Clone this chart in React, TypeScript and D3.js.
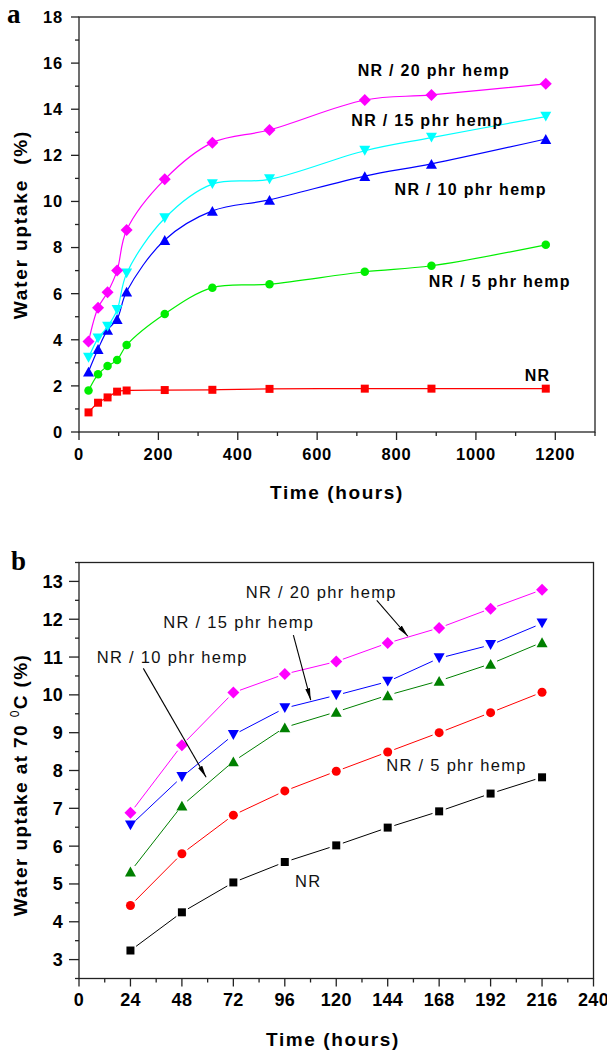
import React from "react";
import * as d3 from "d3";

// ---------- Panel a: water uptake at room temperature ----------
const timesA = [24, 48, 72, 96, 120, 216, 336, 480, 720, 888, 1176];
const nrA = [0.85, 1.27, 1.5, 1.75, 1.8, 1.82, 1.83, 1.87, 1.88, 1.88, 1.88];
const nr5A = [1.8, 2.5, 2.86, 3.12, 3.77, 5.12, 6.26, 6.41, 6.95, 7.21, 8.12];
const nr10A = [2.62, 3.6, 4.43, 4.9, 6.09, 8.33, 9.59, 10.07, 11.1, 11.63, 12.71];
const nr15A = [3.22, 4.06, 4.57, 5.29, 6.88, 9.27, 10.75, 10.96, 12.2, 12.77, 13.68];
const nr20A = [3.92, 5.39, 6.06, 7.0, 8.76, 10.96, 12.55, 13.1, 14.4, 14.62, 15.1];
const xTicksA = [0, 200, 400, 600, 800, 1000, 1200];
const yTicksA = [0, 2, 4, 6, 8, 10, 12, 14, 16, 18];

// ---------- Panel b: water uptake at 70 °C ----------
const timesB = [24, 48, 72, 96, 120, 144, 168, 192, 216];
const nrB = [3.24, 4.25, 5.04, 5.58, 6.02, 6.49, 6.92, 7.39, 7.82];
const nr5B = [4.43, 5.8, 6.82, 7.46, 7.98, 8.49, 9.0, 9.53, 10.07];
const nr10B = [5.33, 7.07, 8.24, 9.14, 9.55, 9.99, 10.37, 10.82, 11.39];
const nr15B = [6.55, 7.83, 8.94, 9.65, 9.99, 10.35, 10.97, 11.32, 11.89];
const nr20B = [6.88, 8.67, 10.06, 10.55, 10.88, 11.37, 11.77, 12.28, 12.78];
const xTicksB = [0, 24, 48, 72, 96, 120, 144, 168, 192, 216, 240];
const yTicksB = [3, 4, 5, 6, 7, 8, 9, 10, 11, 12, 13];

type Marker = "square" | "circle" | "up" | "down" | "diamond";

function markerPath(kind: Marker, s: number): string {
  const h = s / 2;
  switch (kind) {
    case "square":
      return `M${-h},${-h}H${h}V${h}H${-h}Z`;
    case "diamond":
      return `M0,${-h}L${h},0L0,${h}L${-h},0Z`;
    case "up":
      return `M0,${-h * 0.9}L${h},${h * 0.9}L${-h},${h * 0.9}Z`;
    case "down":
      return `M0,${h * 0.9}L${h},${-h * 0.9}L${-h},${-h * 0.9}Z`;
    default:
      return "";
  }
}

function Mark({ kind, x, y, size, color }: { kind: Marker; x: number; y: number; size: number; color: string }) {
  if (kind === "circle") return <circle cx={x} cy={y} r={size / 2} fill={color} />;
  return <path d={markerPath(kind, size)} transform={`translate(${x},${y})`} fill={color} />;
}

const seriesA = [
  { name: "NR", values: nrA, color: "#ff0000", marker: "square" as Marker, size: 8 },
  { name: "NR / 5 phr hemp", values: nr5A, color: "#00ee00", marker: "circle" as Marker, size: 8.5 },
  { name: "NR / 10 phr hemp", values: nr10A, color: "#0000ff", marker: "up" as Marker, size: 11 },
  { name: "NR / 15 phr hemp", values: nr15A, color: "#00ffff", marker: "down" as Marker, size: 11 },
  { name: "NR / 20 phr hemp", values: nr20A, color: "#ff00ff", marker: "diamond" as Marker, size: 12 },
];

const labelsA = [
  { text: "NR / 20 phr hemp", x: 702, y: 15.44 },
  { text: "NR / 15 phr hemp", x: 686, y: 13.28 },
  { text: "NR / 10 phr hemp", x: 795, y: 10.28 },
  { text: "NR / 5 phr hemp", x: 881, y: 6.3 },
  { text: "NR", x: 1123, y: 2.22 },
];

const seriesB = [
  { name: "NR", values: nrB, color: "#000000", marker: "square" as Marker, size: 8 },
  { name: "NR / 5 phr hemp", values: nr5B, color: "#ff0000", marker: "circle" as Marker, size: 9 },
  { name: "NR / 10 phr hemp", values: nr10B, color: "#008000", marker: "up" as Marker, size: 11 },
  { name: "NR / 15 phr hemp", values: nr15B, color: "#0000ff", marker: "down" as Marker, size: 11 },
  { name: "NR / 20 phr hemp", values: nr20B, color: "#ff00ff", marker: "diamond" as Marker, size: 12 },
];

const labelsB = [
  { text: "NR / 20 phr hemp", x: 77.8, y: 12.57 },
  { text: "NR / 15 phr hemp", x: 39.3, y: 11.78 },
  { text: "NR / 10 phr hemp", x: 8.3, y: 10.84 },
  { text: "NR / 5 phr hemp", x: 143.3, y: 8.0 },
  { text: "NR", x: 100.8, y: 4.92 },
];

// arrow annotations: [x1, y1, x2, y2] in data units
const arrowsB = [
  [138.9, 12.5, 153.4, 11.55],
  [100, 11.58, 108.1, 9.86],
  [30, 10.7, 59.3, 7.82],
];

const SANS = "'Liberation Sans', Arial, Helvetica, sans-serif";
const SERIF = "'Liberation Serif', 'Times New Roman', serif";
const AXIS = "#222";

function range(a: number, b: number, step: number) {
  const out: number[] = [];
  for (let v = a; v <= b + 1e-9; v += step) out.push(+v.toFixed(6));
  return out;
}

function Frame({ x, y, left, right, top, bottom, xMajor, xMinor, yMajor, yMinor, yTickLen, xLabelY, tickFont, tickSpacing }: any) {
  return (
    <g>
      <rect x={left} y={top} width={right - left} height={bottom - top} fill="none" stroke={AXIS} strokeWidth={1.3} />
      {xMinor.map((v: number) => (
        <line key={"xm" + v} x1={x(v)} x2={x(v)} y1={bottom} y2={bottom + 4} stroke={AXIS} strokeWidth={1.3} />
      ))}
      {xMajor.map((v: number) => (
        <g key={"xM" + v}>
          <line x1={x(v)} x2={x(v)} y1={bottom} y2={bottom + 8} stroke={AXIS} strokeWidth={1.3} />
          <text x={x(v)} y={xLabelY} textAnchor="middle" fontFamily={SANS} fontWeight="bold" fontSize={tickFont} letterSpacing={tickSpacing} fill="#000">
            {v}
          </text>
        </g>
      ))}
      {yMinor.map((v: number) => (
        <line key={"ym" + v} x1={left - 4} x2={left} y1={y(v)} y2={y(v)} stroke={AXIS} strokeWidth={1.3} />
      ))}
      {yMajor.map((v: number) => (
        <g key={"yM" + v}>
          <line x1={left - yTickLen} x2={left} y1={y(v)} y2={y(v)} stroke={AXIS} strokeWidth={1.3} />
          <text x={left - 16} y={y(v)} dy="0.36em" textAnchor="end" fontFamily={SANS} fontWeight="bold" fontSize={tickFont} letterSpacing={tickSpacing} fill="#000">
            {v}
          </text>
        </g>
      ))}
    </g>
  );
}

export default function App() {
  // panel a scales
  const xa = d3.scaleLinear().domain([0, 1300]).range([79, 595]);
  const ya = d3.scaleLinear().domain([0, 18]).range([432, 17]);
  const lineA = d3
    .line<number>()
    .x((_, i) => xa(timesA[i]))
    .y((d) => ya(d))
    .curve(d3.curveCatmullRom.alpha(0.5));

  // panel b scales
  const xb = d3.scaleLinear().domain([0, 240]).range([79, 593.5]);
  const yb = d3.scaleLinear().domain([2.5, 13.5]).range([978.5, 562.5]);

  const gap = 7;
  const gappedSegments = (values: number[]) => {
    const segs: { x1: number; y1: number; x2: number; y2: number }[] = [];
    for (let i = 0; i < values.length - 1; i++) {
      const ax = xb(timesB[i]), ay = yb(values[i]);
      const bx = xb(timesB[i + 1]), by = yb(values[i + 1]);
      const len = Math.hypot(bx - ax, by - ay);
      const ux = (bx - ax) / len, uy = (by - ay) / len;
      segs.push({ x1: ax + ux * gap, y1: ay + uy * gap, x2: bx - ux * gap, y2: by - uy * gap });
    }
    return segs;
  };

  return (
    <svg width={607} height={1050} style={{ position: "absolute", left: 0, top: 0, background: "#fff" }}>
      <defs>
        <marker id="arrowHead" viewBox="0 0 12 6" refX={12} refY={3} markerWidth={12} markerHeight={6} markerUnits="userSpaceOnUse" orient="auto">
          <path d="M0,0.6L12,3L0,5.4Z" fill="#000" />
        </marker>
      </defs>

      {/* ---------------- panel a ---------------- */}
      <text x={7} y={23} fontFamily={SERIF} fontWeight="bold" fontSize={27} fill="#000">a</text>
      <Frame
        x={xa}
        y={ya}
        left={79}
        right={595}
        top={17}
        bottom={432}
        xMajor={xTicksA}
        xMinor={range(100, 1300, 200)}
        yMajor={yTicksA}
        yMinor={range(1, 17, 2)}
        yTickLen={8}
        xLabelY={460}
        tickFont={16.5}
        tickSpacing={0.8}
      />
      {seriesA.map((s) => (
        <g key={"a" + s.name}>
          <path d={lineA(s.values) || ""} fill="none" stroke={s.color} strokeWidth={1.2} />
          {s.values.map((v, i) => (
            <Mark key={i} kind={s.marker} x={xa(timesA[i])} y={ya(v)} size={s.size} color={s.color} />
          ))}
        </g>
      ))}
      {labelsA.map((l) => (
        <text key={"la" + l.text} x={xa(l.x)} y={ya(l.y)} fontFamily={SANS} fontWeight="bold" fontSize={16} letterSpacing={1.3} fill="#000">
          {l.text}
        </text>
      ))}
      <text x={337} y={499} textAnchor="middle" fontFamily={SANS} fontWeight="bold" fontSize={19} letterSpacing={1.6} fill="#000">
        Time (hours)
      </text>
      <text transform={`translate(27,${(17 + 432) / 2}) rotate(-90)`} textAnchor="middle" fontFamily={SANS} fontWeight="bold" fontSize={19} letterSpacing={1.8} fill="#000" style={{ whiteSpace: "pre" }}>
        {"Water uptake  (%)"}
      </text>

      {/* ---------------- panel b ---------------- */}
      <text x={11} y={570} fontFamily={SERIF} fontWeight="bold" fontSize={27} fill="#000">b</text>
      <Frame
        x={xb}
        y={yb}
        left={79}
        right={593.5}
        top={562.5}
        bottom={978.5}
        xMajor={xTicksB}
        xMinor={range(12, 228, 24)}
        yMajor={yTicksB}
        yMinor={range(2.5, 13.5, 1)}
        yTickLen={10}
        xLabelY={1006}
        tickFont={18}
        tickSpacing={0.3}
      />
      {seriesB.map((s) => (
        <g key={"b" + s.name}>
          {gappedSegments(s.values).map((g, i) => (
            <line key={i} x1={g.x1} y1={g.y1} x2={g.x2} y2={g.y2} stroke={s.color} strokeWidth={1} />
          ))}
          {s.values.map((v, i) => (
            <Mark key={i} kind={s.marker} x={xb(timesB[i])} y={yb(v)} size={s.size} color={s.color} />
          ))}
        </g>
      ))}
      {labelsB.map((l) => (
        <text key={"lb" + l.text} x={xb(l.x)} y={yb(l.y)} fontFamily={SANS} fontSize={16.5} letterSpacing={1.3} fill="#111">
          {l.text}
        </text>
      ))}
      {arrowsB.map((a, i) => (
        <line key={"ar" + i} x1={xb(a[0])} y1={yb(a[1])} x2={xb(a[2])} y2={yb(a[3])} stroke="#000" strokeWidth={1.1} markerEnd="url(#arrowHead)" />
      ))}
      <text x={333} y={1046} textAnchor="middle" fontFamily={SANS} fontWeight="bold" fontSize={19} letterSpacing={1.6} fill="#000">
        Time (hours)
      </text>
      <text transform={`translate(27,785) rotate(-90)`} textAnchor="middle" fontFamily={SANS} fontWeight="bold" fontSize={19} letterSpacing={1.4} fill="#000">
        Water uptake at 70 <tspan dy={-8} fontSize={12} fontWeight="normal">0</tspan>
        <tspan dy={8}>C (%)</tspan>
      </text>
    </svg>
  );
}
